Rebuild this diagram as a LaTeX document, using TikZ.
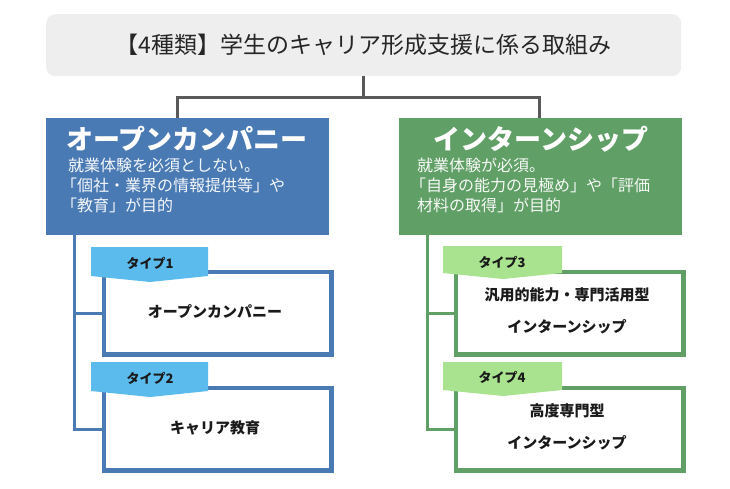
\documentclass[tikz,border=0pt]{standalone}
\usepackage{fontspec}
\setmainfont{Noto Sans CJK JP}
\definecolor{hdrfill}{HTML}{EEEEEE}
\definecolor{hdrtext}{HTML}{262626}
\definecolor{conn}{HTML}{595959}
\definecolor{blueM}{HTML}{4A7AB4}
\definecolor{greenM}{HTML}{609F66}
\definecolor{blueT}{HTML}{5BBBEC}
\definecolor{greenT}{HTML}{A9E38F}
\definecolor{txt}{HTML}{1A1A1A}
\tikzset{
  mainbox/.style={rectangle, inner sep=0pt, anchor=north west, minimum width=283pt, minimum height=117pt},
  childbox/.style={rectangle, draw=#1, line width=3pt, fill=white, inner sep=0pt, anchor=north west, minimum width=226pt, minimum height=81pt},
  maintitle/.style={text=white, font=\fontsize{27}{32}\selectfont\bfseries, inner sep=0pt},
  desc/.style={text=white!94!blueM, font=\fontsize{16}{20}\selectfont, align=left, inner sep=0pt, anchor=north west},
  childtext/.style={text=txt, font=\fontsize{15}{32}\selectfont\bfseries, align=center, inner sep=0pt},
  tabtext/.style={text=txt, font=\fontsize{13}{16}\selectfont\bfseries, inner sep=0pt},
  trunk/.style={line width=3pt, draw=#1}
}
\begin{document}
\begin{tikzpicture}[x=1pt,y=-1pt]
\useasboundingbox (0,0) rectangle (730,488);
% header
\node[rectangle, rounded corners=9pt, fill=hdrfill, inner sep=0pt, anchor=north west, minimum width=635pt, minimum height=62pt] (title) at (46,14) {};
\node[text=hdrtext, font=\fontsize{23}{27}\selectfont, inner sep=0pt] (titletext) at ([yshift=0.5pt]title.center) {【4種類】学生のキャリア形成支援に係る取組み};
% main boxes
\node[mainbox, fill=blueM] (left) at (46,118) {};
\node[mainbox, fill=greenM] (right) at (399,118) {};
% connectors from header
\draw[conn, line width=3pt] (title.south) -- ++(0,21) coordinate (j);
\draw[conn, line width=3pt] ([xshift=-10.5pt]left.north) |- (j) -| ([xshift=-1.5pt]right.north);
% main texts
\node[maintitle] (lt) at (187,139) {オープンカンパニー};
\node[maintitle] (rt) at (541,139) {インターンシップ};
\node[desc] (ld) at (68,158) {就業体験を必須としない。\\\kern-0.45em「個社・業界の情報提供等」や\\\kern-0.45em「教育」が目的};
\node[desc, text=white!94!greenM] (rd) at (417,158) {就業体験が必須。\\\kern-0.45em「自身の能力の見極め」や「評価\\材料の取得」が目的};
% child boxes
\node[childbox=blueM] (c1) at (103,271) {};
\node[childbox=blueM] (c2) at (103,387) {};
\node[childbox=greenM] (c3) at (455,271) {};
\node[childbox=greenM] (c4) at (455,387) {};
% trunks
\draw[trunk=blueM] ([xshift=28pt]left.south west) |- (c1.west);
\draw[trunk=blueM] ([xshift=28pt]left.south west) |- (c2.west);
\draw[trunk=greenM] ([xshift=28pt]right.south west) |- (c3.west);
\draw[trunk=greenM] ([xshift=28pt]right.south west) |- (c4.west);
% redraw child borders over trunk ends
\draw[blueM, line width=3pt] (c1.north west) rectangle (c1.south east);
\draw[blueM, line width=3pt] (c2.north west) rectangle (c2.south east);
\draw[greenM, line width=3pt] (c3.north west) rectangle (c3.south east);
\draw[greenM, line width=3pt] (c4.north west) rectangle (c4.south east);
% tabs
\fill[blueT] (91,247) -- (208,247) -- (208,276) -- (150,282) -- (91,276) -- cycle;
\fill[blueT] (91,362) -- (208,362) -- (208,391) -- (150,397) -- (91,391) -- cycle;
\fill[greenT] (443,246) -- (562,246) -- (562,273) -- (503,279) -- (443,273) -- cycle;
\fill[greenT] (443,362) -- (562,362) -- (562,390) -- (503,396) -- (443,390) -- cycle;
\node[tabtext] (t1) at (150,263) {タイプ1};
\node[tabtext] (t2) at (150,378) {タイプ2};
\node[tabtext] (t3) at (502,262) {タイプ3};
\node[tabtext] (t4) at (502,377) {タイプ4};
% child texts
\node[childtext] (c1t) at (215,311) {オープンカンパニー};
\node[childtext] (c2t) at (215,428) {キャリア教育};
\node[childtext] (c3t) at (567,311) {汎用的能力・専門活用型\\インターンシップ};
\node[childtext] (c4t) at (567,427) {高度専門型\\インターンシップ};
\end{tikzpicture}
\end{document}
